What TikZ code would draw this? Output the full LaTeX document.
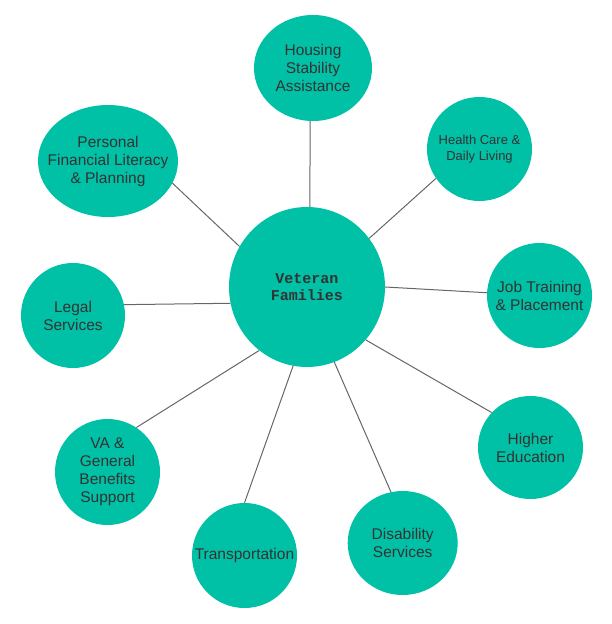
\documentclass[tikz,border=0pt]{standalone}
\usepackage{fontspec}
\setmainfont{Liberation Sans}
\newfontfamily\hubfont{Liberation Mono}
\usetikzlibrary{shapes.geometric}
\definecolor{teal}{RGB}{0,192,166}
\definecolor{txt}{RGB}{51,51,51}
\definecolor{edge}{RGB}{102,102,102}
\tikzset{
  leaf/.style={ellipse, fill=teal, draw=none, inner sep=0pt},
  lbl/.style={align=center, text=txt, inner sep=0pt, font=\fontsize{15.5pt}{18pt}\selectfont},
  smalllbl/.style={align=center, text=txt, inner sep=0pt, font=\fontsize{13pt}{15.7pt}\selectfont},
  hublbl/.style={align=center, text=txt, inner sep=0pt, font=\hubfont\bfseries\fontsize{15pt}{17.5pt}\selectfont},
  conn/.style={draw=edge, line width=1pt}
}
\begin{document}
\begin{tikzpicture}[x=1pt,y=-1pt]
\useasboundingbox (0,0) rectangle (612,624);
\node[leaf, minimum width=156pt, minimum height=160pt,
  label={[hublbl]center:Veteran\\Families}] (hub) at (307,287) {};
\node[leaf, minimum width=118pt, minimum height=106pt,
  label={[lbl]center:Housing\\Stability\\Assistance}] (housing) at (313,68) {};
\node[leaf, minimum width=105pt, minimum height=104pt,
  label={[smalllbl]center:Health Care \&\\Daily Living}] (health) at (479.5,149) {};
\node[leaf, minimum width=105pt, minimum height=105pt,
  label={[lbl]center:Job Training\\\& Placement}] (job) at (539.5,295.5) {};
\node[leaf, minimum width=105pt, minimum height=103pt,
  label={[lbl]center:Higher\\Education}] (higher) at (530.5,447.5) {};
\node[leaf, minimum width=110pt, minimum height=104pt,
  label={[lbl]center:Disability\\Services}] (disab) at (402.7,543) {};
\node[leaf, minimum width=105pt, minimum height=105pt,
  label={[lbl]center:Transportation}] (transp) at (244.5,555.5) {};
\node[leaf, minimum width=105pt, minimum height=106pt,
  label={[lbl]center:VA \&\\General\\Benefits\\Support}] (va) at (107.5,472) {};
\node[leaf, minimum width=104pt, minimum height=105pt,
  label={[lbl]center:Legal\\Services}] (legal) at (73,315.5) {};
\node[leaf, minimum width=140pt, minimum height=112pt,
  label={[lbl]center:Personal\\Financial Literacy\\\& Planning}] (personal) at (108,161) {};
\draw[conn] (hub.88.6) -- (housing.267.9);
\draw[conn] (hub.38.8) -- (health.214.3);
\draw[conn] (hub.0) -- (job.177.3);
\draw[conn] (hub.-42.4) -- (higher.138.9);
\draw[conn] (hub.-70.9) -- (disab.103.2);
\draw[conn] (hub.-100.9) -- (transp.90);
\draw[conn] (hub.233.3) -- (va.57.8);
\draw[conn] (hub.192.6) -- (legal.12.8);
\draw[conn] (hub.149.4) -- (personal.341.5);
\end{tikzpicture}
\end{document}
